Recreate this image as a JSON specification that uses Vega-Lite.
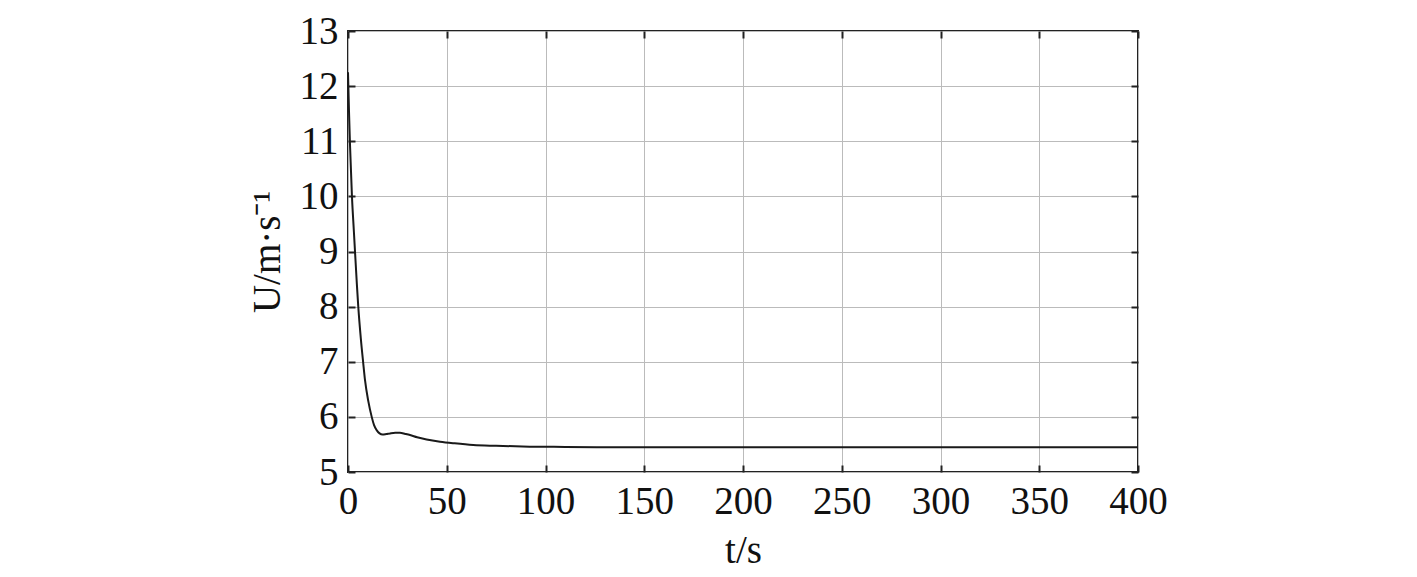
{
  "$schema": "https://vega.github.io/schema/vega-lite/v6.json",
  "autosize": {"type": "none"},
  "padding": {"left": 348, "top": 31, "right": 279, "bottom": 105},
  "width": 790,
  "height": 441,
  "background": "white",
  "config": {
    "view": {"stroke": "#222222", "strokeWidth": 2},
    "font": "Liberation Serif",
    "axis": {
      "labelFont": "Liberation Serif",
      "titleFont": "Liberation Serif",
      "labelFontSize": 39,
      "titleFontSize": 39,
      "labelColor": "#111111",
      "titleColor": "#111111",
      "titleFontWeight": "normal",
      "gridColor": "#bbbbbb",
      "gridWidth": 1,
      "domain": false,
      "tickColor": "#222222",
      "tickWidth": 2,
      "tickSize": -7
    }
  },
  "data": {
    "values": [
      {"t": 0, "U": 12.25},
      {"t": 0.5, "U": 11.55},
      {"t": 1, "U": 10.95},
      {"t": 2, "U": 10.0},
      {"t": 3, "U": 9.35},
      {"t": 3.5, "U": 9.03},
      {"t": 4.5, "U": 8.4},
      {"t": 5.2, "U": 8.0},
      {"t": 6.5, "U": 7.42},
      {"t": 7.7, "U": 6.98},
      {"t": 8.6, "U": 6.67},
      {"t": 10.3, "U": 6.28},
      {"t": 12, "U": 6.0},
      {"t": 13.2, "U": 5.85},
      {"t": 14.5, "U": 5.76},
      {"t": 16, "U": 5.7},
      {"t": 17.5, "U": 5.68},
      {"t": 19.5, "U": 5.69},
      {"t": 21.3, "U": 5.7},
      {"t": 24, "U": 5.71},
      {"t": 26.3, "U": 5.71},
      {"t": 29, "U": 5.69},
      {"t": 31.4, "U": 5.67},
      {"t": 35, "U": 5.63},
      {"t": 39.8, "U": 5.59},
      {"t": 46.6, "U": 5.55},
      {"t": 54, "U": 5.52},
      {"t": 63.4, "U": 5.49},
      {"t": 75, "U": 5.475},
      {"t": 92, "U": 5.46},
      {"t": 110, "U": 5.455},
      {"t": 130, "U": 5.45},
      {"t": 160, "U": 5.45},
      {"t": 200, "U": 5.45},
      {"t": 300, "U": 5.45},
      {"t": 400, "U": 5.45}
    ]
  },
  "layer": [
    {
      "mark": {"type": "line", "color": "#1a1a1a", "strokeWidth": 2, "interpolate": "monotone"},
      "encoding": {
        "x": {
          "field": "t", "type": "quantitative",
          "scale": {"domain": [0, 400], "nice": false},
          "axis": {"orient": "bottom", "values": [0, 50, 100, 150, 200, 250, 300, 350, 400], "title": "t/s", "labelPadding": 17, "titlePadding": 10, "labelFlush": false, "labelOverlap": false, "grid": true}
        },
        "y": {
          "field": "U", "type": "quantitative",
          "scale": {"domain": [5, 13], "nice": false, "zero": false},
          "axis": {"orient": "left", "values": [5, 6, 7, 8, 9, 10, 11, 12, 13], "title": "U/m·s⁻¹", "labelPadding": 17, "titlePadding": 12, "labelFlush": false, "labelOverlap": false, "grid": true}
        }
      }
    },
    {
      "mark": {"type": "line", "opacity": 0},
      "encoding": {
        "x": {
          "field": "t", "type": "quantitative",
          "axis": {"orient": "top", "values": [0, 50, 100, 150, 200, 250, 300, 350, 400], "labels": false, "title": null, "grid": false}
        },
        "y": {
          "field": "U", "type": "quantitative",
          "axis": {"orient": "right", "values": [5, 6, 7, 8, 9, 10, 11, 12, 13], "labels": false, "title": null, "grid": false}
        }
      }
    }
  ]
}
